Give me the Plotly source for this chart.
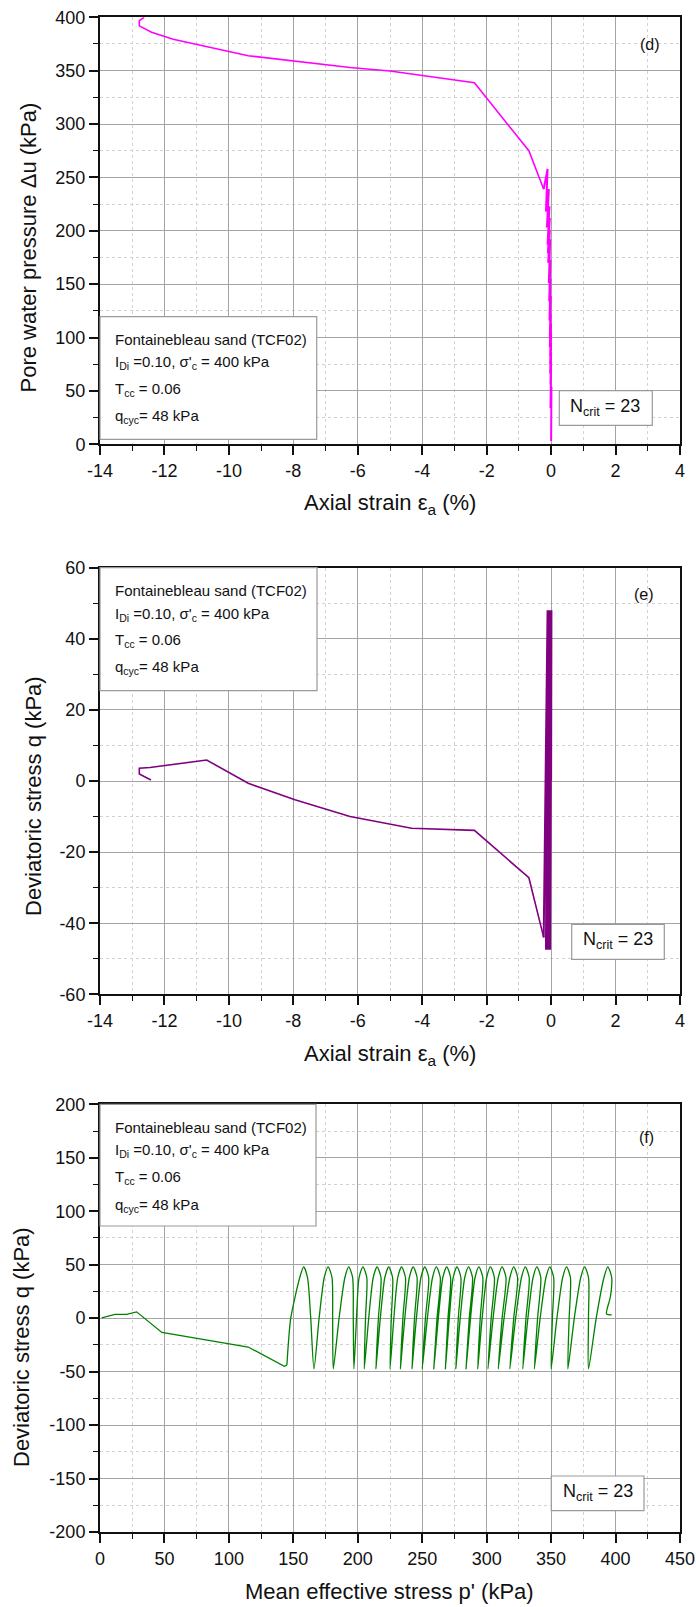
import plotly.graph_objects as go

# ---------------- data ----------------
# 23 loading cycles: values at the compression peak (q=+48) and extension trough (q=-48)
q_peak = [48, 48, 48, 48, 48, 48, 48, 48, 48, 48, 48, 48, 48, 48, 48, 48, 48, 48, 48, 48, 48, 48, 48]
q_shoulder = [38, 38, 38, 38, 38, 38, 38, 38, 38, 38, 38, 38, 38, 38, 38, 38, 38, 38, 38, 38, 38, 38, 38]
q_trough = [-47.5, -47.5, -47.5, -47.5, -47.5, -47.5, -47.5, -47.5, -47.5, -47.5, -47.5, -47.5,
            -47.5, -47.5, -47.5, -47.5, -47.5, -47.5, -47.5, -47.5, -47.5, -47.5, -44]

# mean effective stress p' (kPa)
p_peak = [394, 376, 362, 349, 339, 330, 321, 312, 303, 294, 286, 277, 269, 261, 252, 243, 234, 224,
          215, 204, 193, 177, 158]
p_rise_top = [397, 379, 365, 352, 342, 333, 324, 315, 306, 297, 289, 280, 272, 264, 255, 246, 237, 227,
              218, 207, 196, 180, 161]
p_fall_top = [391, 373, 359, 346, 336, 327, 318, 309, 300, 291, 283, 274, 266, 258, 249, 240, 231, 221,
              212, 201, 190, 174, 155]
p_fall_mid = [385, 368, 354.5, 341.5, 332, 322.5, 313.5, 305, 296.5, 287.5, 279.5, 271, 262.5, 254,
              245.5, 236.5, 228, 217.5, 208.5, 199, 185.5, 170, 148]
p_trough = [379, 363, 350, 337, 328, 318, 309, 301, 293, 284, 276, 268, 259, 250, 242, 233, 225, 214,
            205, 197, 181, 166, 145]
p_rise_mid = [379, 364, 351, 339.5, 330.5, 321, 312, 303.5, 295, 286.5, 278, 270, 261.5, 252.5, 244,
              235, 226, 216, 206, 196.5, 180.5, 163.5]
p_start = [397, 393, 396]
q_start = [3, 4, 20]

# pore water pressure (kPa)
du_peak = [22, 40, 54, 67, 77, 86, 95, 104, 113, 122, 130, 139, 147, 155, 164, 173, 182, 192, 201,
           212, 223, 239, 258]
du_trough = [5, 21, 34, 47, 56, 66, 75, 83, 91, 100, 108, 116, 125, 134, 142, 151, 159, 170, 179, 187,
             203, 218, 239]

# axial strain (%)
ea_peak = [0.01, 0.01, 0.01, 0.01, 0.0, 0.0, 0.0, 0.0, 0.0, -0.01, -0.01, -0.01, -0.01, -0.02, -0.02,
           -0.02, -0.03, -0.03, -0.04, -0.04, -0.05, -0.07, -0.11]
ea_trough = [-0.01, -0.01, -0.02, -0.02, -0.02, -0.03, -0.03, -0.03, -0.04, -0.04, -0.04, -0.05, -0.05,
             -0.06, -0.06, -0.07, -0.08, -0.09, -0.10, -0.11, -0.13, -0.16, -0.23]

# post-liquefaction paths
post_ea = [-0.23, -0.69, -2.38, -4.33, -6.24, -7.95, -9.4, -10.69, -12.45, -12.78, -12.78, -12.42]
post_q = [-44, -27.2, -13.9, -13.3, -10.0, -5.3, -0.65, 5.9, 3.8, 3.6, 2.0, 0.3]
post_du_ea = [-0.23, -0.69, -2.38, -5.0, -6.24, -8.0, -9.4, -10.07, -10.9, -11.73, -12.4, -12.78,
              -12.78, -12.63]
post_du = [239, 275, 338.7, 349.7, 353, 359, 364, 368.4, 374, 379.4, 386, 392, 396.8, 400]
post_p_f = [145, 143, 115, 48, 28.4, 20.7, 11.6, 1.3]
post_q_f = [-44, -45, -27, -13.4, 5.9, 3.5, 3.5, 0.3]

# axes ticks
x_ticks_strain = [-14, -12, -10, -8, -6, -4, -2, 0, 2, 4]
x_labels_strain = ['-14', '-12', '-10', '-8', '-6', '-4', '-2', '0', '2', '4']
y_ticks_du = [0, 50, 100, 150, 200, 250, 300, 350, 400]
y_labels_du = ['0', '50', '100', '150', '200', '250', '300', '350', '400']
y_ticks_q1 = [-60, -40, -20, 0, 20, 40, 60]
y_labels_q1 = ['-60', '-40', '-20', '0', '20', '40', '60']
x_ticks_p = [0, 50, 100, 150, 200, 250, 300, 350, 400, 450]
x_labels_p = ['0', '50', '100', '150', '200', '250', '300', '350', '400', '450']
y_ticks_q2 = [-200, -150, -100, -50, 0, 50, 100, 150, 200]
y_labels_q2 = ['-200', '-150', '-100', '-50', '0', '50', '100', '150', '200']

info_lines = ["Fontainebleau sand (TCF02)",
              "I<sub>Di</sub> =0.10, σ'<sub>c</sub> = 400 kPa",
              "T<sub>cc</sub> = 0.06",
              "q<sub>cyc</sub>= 48 kPa"]
ncrit_text = "N<sub>crit</sub> = 23"

# ---------------- build paths ----------------
d_x = [0.0]
d_y = [3]
e_x = [0.0]
e_y = [0]
f_x = list(p_start)
f_y = list(q_start)
for k in range(len(p_peak)):
    d_x += [ea_peak[k], ea_trough[k]]
    d_y += [du_peak[k], du_trough[k]]
    e_x += [ea_peak[k], ea_trough[k]]
    e_y += [q_peak[k], q_trough[k]]
    if k > 0:
        f_x.append(p_rise_mid[k - 1]); f_y.append(0)
    f_x += [p_rise_top[k], p_peak[k], p_fall_top[k], p_fall_mid[k], p_trough[k]]
    f_y += [q_shoulder[k], q_peak[k], q_shoulder[k], 0, q_trough[k]]

W, H = 696, 1607
def px(x):
    return x / W
def py(y):
    return 1 - y / H

FONT = "Liberation Sans, Arial, sans-serif"
MAG, PUR, GRN = '#ff00ff', '#800080', '#008000'

fig = go.Figure()
fig.add_trace(go.Scatter(x=d_x, y=d_y, mode='lines', line=dict(color=MAG, width=2),
                         xaxis='x', yaxis='y', showlegend=False))
fig.add_trace(go.Scatter(x=post_du_ea, y=post_du, mode='lines', line=dict(color=MAG, width=1.6),
                         xaxis='x', yaxis='y', showlegend=False))
fig.add_trace(go.Scatter(x=e_x, y=e_y, mode='lines', line=dict(color=PUR, width=2),
                         xaxis='x2', yaxis='y2', showlegend=False))
fig.add_trace(go.Scatter(x=post_ea, y=post_q, mode='lines', line=dict(color=PUR, width=1.6),
                         xaxis='x2', yaxis='y2', showlegend=False))
fig.add_trace(go.Scatter(x=f_x, y=f_y, mode='lines',
                         line=dict(color=GRN, width=1.3, shape='spline', smoothing=0.7),
                         xaxis='x3', yaxis='y3', showlegend=False))
fig.add_trace(go.Scatter(x=post_p_f, y=post_q_f, mode='lines', line=dict(color=GRN, width=1.3),
                         xaxis='x3', yaxis='y3', showlegend=False))

def axis(rng, tv, tt, mdt, dom, anchor):
    return dict(range=rng, tickvals=tv, ticktext=tt, domain=dom, anchor=anchor,
                showline=True, linecolor='#111', linewidth=2, mirror=True,
                ticks='outside', ticklen=9, tickwidth=1.5, tickcolor='#111',
                showgrid=True, gridcolor='#a4a4a4', gridwidth=1, zeroline=False,
                tickfont=dict(family=FONT, size=18, color='#111'),
                minor=dict(dtick=mdt, showgrid=True, gridcolor='#d2d2d2', griddash='dot', gridwidth=1,
                           ticks='outside', ticklen=5, tickwidth=1.2, tickcolor='#111'),
                fixedrange=True)

xd = [px(100), px(680)]
dom_d = [py(444.3), py(17.3)]
dom_e = [py(994.3), py(567.7)]
dom_f = [py(1532), py(1104.3)]

fig.update_layout(
    width=W, height=H, margin=dict(l=0, r=0, t=0, b=0),
    paper_bgcolor='white', plot_bgcolor='white', template='none',
    xaxis=axis([-14, 4], x_ticks_strain, x_labels_strain, 1, xd, 'y'),
    yaxis=axis([0, 400], y_ticks_du, y_labels_du, 25, dom_d, 'x'),
    xaxis2=axis([-14, 4], x_ticks_strain, x_labels_strain, 1, xd, 'y2'),
    yaxis2=axis([-60, 60], y_ticks_q1, y_labels_q1, 10, dom_e, 'x2'),
    xaxis3=axis([0, 450], x_ticks_p, x_labels_p, 25, xd, 'y3'),
    yaxis3=axis([-200, 200], y_ticks_q2, y_labels_q2, 25, dom_f, 'x3'),
)

ann = []
shapes = []
def text(x, y, s, size, xanchor='left', angle=0):
    ann.append(dict(x=px(x), y=py(y), xref='paper', yref='paper', text=s, showarrow=False,
                    xanchor=xanchor, yanchor='middle', textangle=angle,
                    font=dict(family=FONT, size=size, color='#111')))
def box(x0, y0, x1, y1):
    shapes.append(dict(type='rect', xref='paper', yref='paper', x0=px(x0), x1=px(x1),
                       y0=py(y1), y1=py(y0), line=dict(color='#9a9a9a', width=1.2),
                       fillcolor='white', layer='above'))

# axis titles
text(28, 247.5, "Pore water pressure Δu (kPa)", 22, 'center', -90)
text(389.5, 504, "Axial strain ε<sub>a</sub> (%)", 22, 'center')
text(33, 796, "Deviatoric stress q (kPa)", 22, 'center', -90)
text(389.5, 1055, "Axial strain ε<sub>a</sub> (%)", 22, 'center')
text(21, 1347, "Deviatoric stress q (kPa)", 22, 'center', -90)
text(390, 1591, "Mean effective stress p' (kPa)", 22, 'center')

# info boxes
for (bx0, by0, bx1, by1, rows) in [(100, 316.7, 316.7, 439.3, [339.3, 362.7, 390, 416.7]),
                                   (100, 567.7, 317, 690.7, [591, 614.3, 640.7, 667.7]),
                                   (100, 1104.3, 316, 1226, [1127.3, 1150.7, 1177.3, 1205])]:
    box(bx0, by0, bx1, by1)
    for s, yy in zip(info_lines, rows):
        text(113, yy, s, 15)

# N_crit boxes
for (bx0, by0, bx1, by1, tx, ty) in [(559.3, 390.7, 652.3, 425.3, 568, 407),
                                     (571.7, 924.3, 664.3, 959.3, 580.5, 940.5),
                                     (551.3, 1476, 644, 1510.7, 560.5, 1492.5)]:
    box(bx0, by0, bx1, by1)
    text(tx, ty, ncrit_text, 18)

# panel labels
text(649.7, 44.5, "(d)", 16, 'center')
text(644, 594, "(e)", 16, 'center')
text(646.3, 1137.5, "(f)", 16, 'center')

fig.update_layout(annotations=ann, shapes=shapes)
fig.write_html("out.html", config={'displayModeBar': False},
               post_script="document.body.style.margin='0';document.body.style.overflow='hidden';")
